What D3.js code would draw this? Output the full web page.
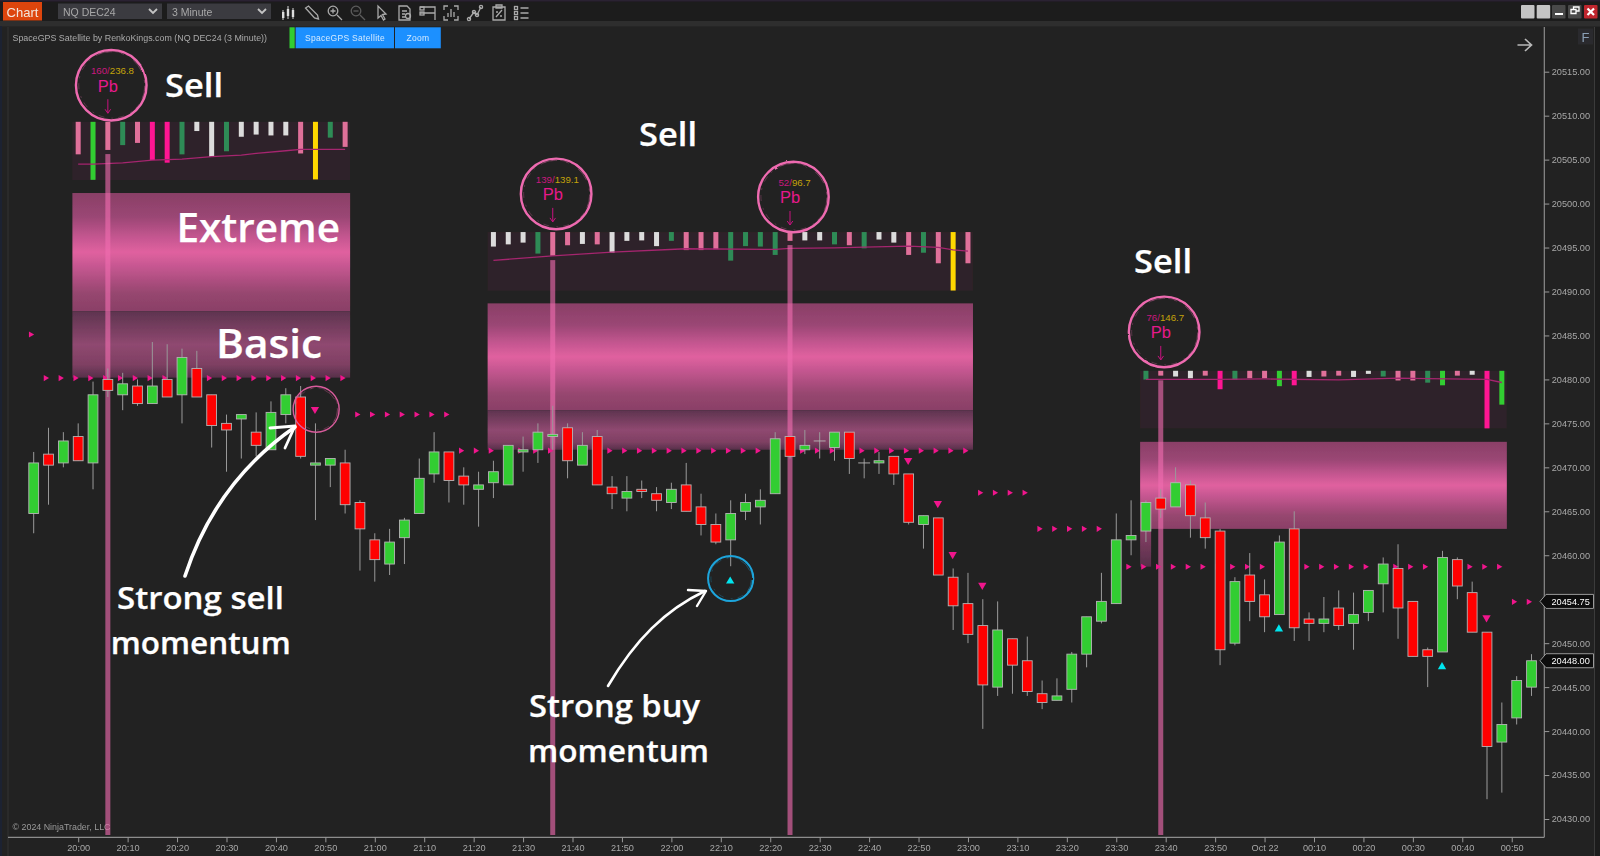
<!DOCTYPE html>
<html>
<head>
<meta charset="utf-8">
<title>SpaceGPS Satellite chart</title>
<script src="https://cdn.jsdelivr.net/npm/d3@7/dist/d3.min.js"></script>
<style>
html,body{margin:0;padding:0;background:#222;overflow:hidden}
svg{display:block}
text{font-family:"Liberation Sans",Arial,sans-serif}
.note{font-family:"Open Sans",sans-serif;font-weight:600;fill:#fff;stroke:#fff;stroke-width:0.25px}
</style>
</head>
<body>
<svg id="c" width="1600" height="856"></svg>
<script>
// ---------- DATA (prices) ----------
const instrumentLabel = "NQ DEC24", periodLabel = "3 Minute";
const titleLabel = "SpaceGPS Satellite by RenkoKings.com (NQ DEC24 (3 Minute))";
const copyrightLabel = "\u00a9 2024 NinjaTrader, LLC";
const priceTicks = [20430,20435,20440,20445,20450,20455,20460,20465,20470,20475,20480,20485,20490,20495,20500,20505,20510,20515];
const timeTickLabels = ["20:00","20:10","20:20","20:30","20:40","20:50","21:00","21:10","21:20","21:30","21:40","21:50","22:00","22:10","22:20","22:30","22:40","22:50","23:00","23:10","23:20","23:30","23:40","23:50","Oct 22","00:10","00:20","00:30","00:40","00:50"];

const opens = [20464.75,20471.5,20470.5,20473.5,20470.5,20480,20478.25,20479.25,20477.25,20480,20478.25,20481.25,20478.25,20475,20475.5,20474,20472,20476,20478,20470.25,20470.25,20470.5,20466,20461.75,20459,20462,20464.75,20469.25,20471.75,20469,20467.5,20468.25,20468,20471.75,20472,20473.5,20474.5,20470.25,20473.5,20467.75,20466.5,20467.5,20467,20466,20468,20465.5,20463.5,20461.75,20465,20465.5,20467,20473.5,20472,20473,20472.25,20474,20470.5,20470.5,20471.25,20469.25,20463.5,20464.25,20457.5,20454.5,20452,20445,20450.5,20448,20444.25,20443.5,20444.75,20448.75,20452.5,20454.5,20461.75,20462.75,20466.5,20465.5,20468,20464.25,20462.75,20450,20457.75,20455.5,20453.25,20463,20452.75,20452.25,20454,20452.25,20453.5,20456.75,20458.5,20454.75,20449.25,20449,20459.5,20455.75,20451.25,20438.75,20441.5,20445];
const highs = [20471.75,20474.5,20474,20475,20479.75,20481.25,20480.75,20480,20484.25,20484,20483.5,20483.25,20478.25,20476,20476,20476.25,20477.5,20479,20479.25,20475,20471,20472,20466.25,20462.5,20463,20464.25,20471,20474,20471.75,20470,20469.5,20470.75,20472.5,20473.5,20475,20477,20475,20474,20474.25,20469,20469,20468.5,20467.75,20468.25,20470.5,20467,20464.75,20466.25,20467,20467.5,20474,20473.5,20474.25,20474,20474,20474,20471,20471.75,20471.25,20469.25,20464.5,20464.25,20458.5,20458,20455,20454.75,20450.5,20450.75,20445.75,20446,20449,20453,20458,20464.75,20466.25,20466.25,20467.5,20470,20468.5,20466,20463,20457.5,20460.25,20457.25,20462.25,20465,20453.5,20455.25,20456,20455.75,20456,20459.75,20461.25,20454.75,20449.5,20460.5,20459.75,20457,20451.25,20443.25,20446.25,20448.75];
const lows = [20462.5,20465.75,20470,20470.75,20467.5,20478,20476.5,20477,20477.25,20478,20475,20478,20472.25,20469.5,20471,20471.25,20472,20475,20471,20464,20467.75,20464.75,20458.25,20457,20457.75,20459,20464.75,20468.25,20466,20465.75,20463.25,20466.5,20468,20469.5,20470.5,20472,20468.75,20470.25,20468,20465.25,20465,20466.5,20465,20465.25,20465,20462.25,20461.25,20458.75,20464,20463.5,20467,20471,20471.5,20471,20470.75,20469.25,20468.75,20469.25,20468,20463.5,20460.75,20457.75,20451.5,20450,20440.25,20444,20444.25,20444,20442.5,20443.5,20443.25,20447.25,20452.25,20454.5,20460,20461.5,20464.25,20465.5,20462,20460.75,20447.5,20449.75,20452.5,20451.25,20453.25,20450.25,20450.25,20451.25,20451.5,20449.25,20452.5,20453.5,20450.5,20448.5,20445,20449,20455,20451.25,20432.25,20433,20440.75,20444];
const closes = [20470.5,20470.25,20473,20470.75,20478.25,20478.75,20479.5,20477.25,20479.25,20478,20482.5,20478,20474.75,20474.25,20476,20472.5,20476.25,20478.25,20471.25,20470.5,20471,20465.75,20463,20459.5,20461.5,20464,20468.75,20471.75,20468.5,20468,20468,20469.5,20472.5,20472,20474,20473.75,20470.75,20472.5,20468,20467,20467.25,20467.25,20466.25,20467.5,20465,20463.5,20461.5,20464.75,20466,20466.25,20473.25,20471.25,20472.5,20473,20474,20471,20470.5,20470.75,20469.25,20463.75,20464.5,20457.75,20454.25,20451,20445.25,20451.5,20447.5,20444.5,20443.25,20444,20448.75,20453,20454.75,20461.75,20462.25,20466,20465.25,20468.25,20464.5,20462,20449.25,20457,20454.75,20453,20461.5,20451.75,20452.25,20452.75,20452,20453.25,20456,20459,20454,20448.5,20448.5,20459.75,20456.5,20451.25,20438.25,20440.75,20445.75,20448];

// satellite panels: first bar, panel extent, hanging-bar lengths (points), bar kinds, signal-line prices
const panelTop = [20509.3,20496.76,20480.98], panelBottom = [20502.67,20490.08,20474.43];
const panelFirstBar = [3,31,75];
const satLen1 = [3.7,6.6,3.2,2.65,2.4,4.35,4.65,3.7,1.05,4,3.35,1.7,1.45,1.55,1.55,3.6,6.55,1.8,2.85];
const satKind1 = "pbpdpkkdggdggggpydp";
const satLen2 = [1.65,1.4,1.2,2.45,2.7,1.5,1.35,1.4,2.35,1,0.95,1.6,1,2.05,2.05,1.95,3.25,1.6,1.65,2.6,1,0.95,0.95,1.4,1.5,1.85,0.85,1.2,2.6,2.35,3.55,6.65,3.55];
const satKind2 = "gggdppgpggggdpppddddpggdpdggpdpyp";
const satLen3 = [1,0.55,0.65,0.85,0.55,2.1,1,0.85,0.85,1.75,1.65,0.7,0.65,0.55,0.7,0.35,0.65,1.1,1.1,1.35,1.65,0.55,0.45,6.55,3.85];
const satKind3 = "dpggpkdppbkgppggdppdbpgkb";
const signalBars1 = [3,4,6,8,10,12,14,15,17,18,19,21];
const signalVals1 = [20504.49,20504.49,20504.64,20504.95,20505.06,20505.33,20505.52,20505.71,20506.01,20506.16,20506.16,20506.16];
const signalBars2 = [31,35,39,44,50,51,54,56,59,61,62,63];
const signalVals2 = [20493.53,20494.06,20494.48,20494.86,20494.78,20494.9,20494.97,20495.05,20495.16,20495.01,20494.74,20494.59];
const signalBars3 = [75,80,83,88,92,94,98,99];
const signalVals3 = [20480.0,20480.0,20480.05,20479.95,20480.15,20480.1,20480.0,20479.65];

// supply zones (prices)
const zoneFirstBar = [3,31,75], zoneLastBar = [21,63,99];
const extremeTop = [20501.2,20488.65,20472.9], extremeBottom = [20487.75,20476.5,20463];
const basicBottom = [20480.2,20472,20458.7];

// Pb signals
const pbBars = [5,35,51,76];
const pbStartPrice = [20505.63,20493.57,20495.28,20479.9];
const pbCount = ["160/","139/","52/","76/"], pbValue = ["236.8","139.1","96.7","146.7"];
const pbRingPrice = [20513.46,20501.1,20500.75,20485.4];

// level markers
const levelPrice = [20485.1,20480.15,20476,20471.9,20467.1,20463,20458.7,20454.7];
const levelFrom = [0,1,22,29,64,68,74,100], levelTo = [0,21,28,63,67,72,99,101];

// momentum triangles
const downBars = [19,59,61,62,64,98], downPrice = [20476.6,20470.8,20465.9,20460.1,20456.6,20452.9];
const upBars = [47,84,95], upPrice = [20457.05,20451.6,20447.3];

// price markers on the axis
const markerPrice = [20454.75,20448];

// ---------- SCALES ----------
const W = 1600, H = 856, axisX = 1544.3, axisY = 837.3, leftX = 8, topY = 27;
const startTime = new Date(2024,9,21,19,51);
const barTime = opens.map((_,i)=>d3.timeMinute.offset(startTime,i*3));
const x = d3.scaleTime().domain([barTime[0],barTime[barTime.length-1]]).range([33.7,1531.5]);
const X = i => x(barTime[i]);
const y = d3.scaleLinear().domain([20430,20515]).range([819.0,71.7]);

const svg = d3.select("#c");
const defs = svg.append("defs");
function gradient(id,stops){
  defs.append("linearGradient").attr("id",id).attr("x1",0).attr("x2",0).attr("y1",0).attr("y2",1)
    .selectAll("stop").data(stops).join("stop").attr("offset",d=>d[0]).attr("stop-color",d=>d[1]);
}
gradient("gExtreme",[[0,"#8a4067"],[0.2,"#9a4674"],[0.38,"#c65791"],[0.5,"#e0619f"],[0.62,"#c65791"],[0.85,"#96466f"],[1,"#8a4067"]]);
gradient("gBasic",[[0,"#5e344f"],[0.5,"#8f4870"],[0.8,"#7f4063"],[1,"#57304a"]]);
gradient("gStub",[[0,"#8a4067"],[1,"#57304a"]]);
defs.append("filter").attr("id","soft").attr("filterUnits","userSpaceOnUse")
  .attr("x",0).attr("y",0).attr("width",W).attr("height",H)
  .append("feGaussianBlur").attr("stdDeviation",0.45);
defs.append("filter").attr("id","rough").attr("x","-10%").attr("y","-10%").attr("width","120%").attr("height","120%")
  .call(f=>{f.append("feTurbulence").attr("type","fractalNoise").attr("baseFrequency",0.05).attr("numOctaves",2).attr("seed",4).attr("result","n");
            f.append("feDisplacementMap").attr("in","SourceGraphic").attr("in2","n").attr("scale",2);});

// ---------- FRAME ----------
const chart = svg.append("g").attr("filter","url(#soft)");
chart.append("rect").attr("width",W).attr("height",H).attr("fill","#222");
chart.append("rect").attr("width",W).attr("height",21).attr("fill","#1d1d1d");
chart.append("rect").attr("width",W).attr("height",1.5).attr("fill","#2c2033");
chart.append("rect").attr("y",21).attr("width",W).attr("height",5.5).attr("fill","#2f2f2f");
chart.append("rect").attr("x",0).attr("y",26).attr("width",2).attr("height",H-26).attr("fill","#1b2333");
chart.append("rect").attr("x",7.5).attr("y",27).attr("width",1).attr("height",H-27).attr("fill","#333");
chart.append("rect").attr("x",1594).attr("y",27).attr("width",1).attr("height",H-27).attr("fill","#3a3a3a");
chart.append("rect").attr("x",1595).attr("y",27).attr("width",5).attr("height",H-27).attr("fill","#1d1d1d");

// Toolbar
chart.append("rect").attr("x",3).attr("y",2).attr("width",39).attr("height",18.5).attr("fill","#dd4511");
chart.append("text").attr("x",22.5).attr("y",16.5).attr("text-anchor","middle").attr("fill","#f2e6dc").attr("font-size",13).text("Chart");
[[58,104,instrumentLabel],[167,104,periodLabel]].forEach(([bx,bw,t])=>{
  chart.append("rect").attr("x",bx).attr("y",3.5).attr("width",bw).attr("height",15.5).attr("fill","#3b3b40");
  chart.append("text").attr("x",bx+5).attr("y",15.5).attr("fill","#a8a8a8").attr("font-size",10.5).text(t);
  chart.append("path").attr("d",`M${bx+91},9 l4,4 l4,-4`).attr("fill","none").attr("stroke","#c4c4c4").attr("stroke-width",1.8);
});
const icons = chart.append("g").attr("fill","none").attr("stroke","#a9a9a9").attr("stroke-width",1.3);
const icon = (cx,d,extra)=>{const g=icons.append("g").attr("transform",`translate(${cx},13)`);g.append("path").attr("d",d);if(extra)extra(g);return g;};
icon(288,"M-5,-3V7M0,-7V6M5,-5V6",g=>{g.append("rect").attr("x",-6).attr("y",-1).attr("width",2.4).attr("height",6).attr("fill","#ddd").attr("stroke","none");g.append("rect").attr("x",-1.2).attr("y",-4).attr("width",2.4).attr("height",7).attr("fill","#ddd").attr("stroke","none");g.append("rect").attr("x",3.8).attr("y",-3).attr("width",2.4).attr("height",7).attr("fill","#ddd").attr("stroke","none");});
icon(311.5,"M-6,-5L3,5L7,6L6,2L-3,-7Z");
icon(335,"M2,2L7,7",g=>{g.append("circle").attr("cx",-2).attr("cy",-2).attr("r",4.8);g.append("path").attr("d","M-4.5,-2H0.5M-2,-4.5V0.5");});
icon(358,"M2,2L7,7",g=>{g.attr("opacity",0.45);g.append("circle").attr("cx",-2).attr("cy",-2).attr("r",4.8);g.append("path").attr("d","M-4.5,-2H0.5");});
icon(381,"M-3,-7L-3,5L0,2.5L2.5,7L4,6L1.5,1.5L5,1Z");
icon(405,"M-6,-7H2L5,-4V7H-6Z M-3,-2H2 M-3,1H0 M-3,4H0",g=>{g.append("circle").attr("cx",3).attr("cy",3).attr("r",2.5);});
icon(428,"M-8,-6H7V7 M-8,0H7",g=>{g.append("rect").attr("x",-8).attr("y",-6).attr("width",4).attr("height",3);g.append("rect").attr("x",-8).attr("y",-1).attr("width",4).attr("height",3);});
icon(451,"M-7,-3V-7H-3 M3,-7H7V-3 M7,3V7H3 M-3,7H-7V3 M-3,4V0 M0,4V-4 M3,4V-1");
icon(475,"M-6,6L-1,-1L2,2L6,-6",g=>{[[-6,6],[-1,-1],[2,2],[6,-6]].forEach(p=>g.append("circle").attr("cx",p[0]).attr("cy",p[1]).attr("r",1.6));});
icon(499,"M-6,-6H6V7H-6Z M-3,-8H3V-5H-3Z M-3,4L3,-3 M-3,-1H-1 M1,3H3");
icon(521.5,"M-1,-5H7 M-1,0H7 M-1,5H7",g=>{[-5,0,5].forEach(v=>g.append("rect").attr("x",-7).attr("y",v-1.5).attr("width",3).attr("height",3));});
// Window buttons
[[1521,"#c4c4c4"],[1536.7,"#c4c4c4"],[1552,"#4a4a4a"],[1568,"#4a4a4a"],[1584,"#c0272d"]].forEach(([bx,c])=>{
  chart.append("rect").attr("x",bx).attr("y",5).attr("width",13.5).attr("height",13.5).attr("rx",1).attr("fill",c);
});
chart.append("path").attr("d","M1555,14H1563").attr("stroke","#fff").attr("stroke-width",2);
chart.append("path").attr("d","M1571,9.5h5v4h-5z M1573.5,9.5v-2.5h5.5v4h-3").attr("fill","none").attr("stroke","#fff").attr("stroke-width",1.3);
chart.append("path").attr("d","M1587.5,8.5L1594,15M1594,8.5L1587.5,15").attr("stroke","#fff").attr("stroke-width",2.2);

// Title, buttons
chart.append("text").attr("x",12.5).attr("y",40.5).attr("fill","#aaa").attr("font-size",8.9).text(titleLabel);
chart.append("rect").attr("x",289.5).attr("y",27.3).attr("width",5.2).attr("height",21).attr("fill","#32cd32");
chart.append("rect").attr("x",295.6).attr("y",27.3).attr("width",98.4).attr("height",21).attr("fill","#1e90ff");
chart.append("rect").attr("x",395).attr("y",27.3).attr("width",45.8).attr("height",21).attr("fill","#1e90ff");
chart.append("text").attr("x",345).attr("y",41).attr("text-anchor","middle").attr("fill","#d4ebff").attr("font-size",8.5).attr("letter-spacing",0.3).text("SpaceGPS Satellite");
chart.append("text").attr("x",418).attr("y",41).attr("text-anchor","middle").attr("fill","#d4ebff").attr("font-size",8.5).attr("letter-spacing",0.3).text("Zoom");
chart.append("rect").attr("x",1578).attr("y",28.5).attr("width",15).attr("height",16).attr("fill","#2c2c2e");
chart.append("text").attr("x",1585.5).attr("y",41.5).attr("text-anchor","middle").attr("fill","#8a9fb5").attr("font-size",13).text("F");
chart.append("path").attr("d","M1517.5,45H1531 M1525,39L1531.5,45L1525,51").attr("fill","none").attr("stroke","#b9b9b9").attr("stroke-width",1.7);
chart.append("text").attr("x",12.5).attr("y",829.5).attr("fill","#9a9a9a").attr("font-size",8.9).text(copyrightLabel);

// ---------- AXES ----------
const yAxis = d3.axisRight(y).tickValues(priceTicks).tickFormat(d3.format(".2f")).tickSize(5).tickPadding(2.4);
const gy = chart.append("g").attr("transform",`translate(${axisX},0)`).call(yAxis);
gy.select(".domain").attr("d",`M0,${topY}V${axisY}`).attr("stroke","#8d8d8d").attr("stroke-width",1.2);
gy.selectAll("line").attr("stroke","#9a9a9a");
gy.selectAll("text").attr("fill","#a8a8a8").attr("font-size",9.2).attr("font-family","Liberation Sans, Arial, sans-serif");

const tickTimes = timeTickLabels.map((_,i)=>d3.timeMinute.offset(new Date(2024,9,21,20,0),i*10));
const xAxis = d3.axisBottom(x).tickValues(tickTimes).tickFormat((_,i)=>timeTickLabels[i]).tickSize(5).tickPadding(2.5);
const gx = chart.append("g").attr("transform",`translate(0,${axisY})`).call(xAxis);
gx.select(".domain").attr("d",`M${leftX},0H${axisX}`).attr("stroke","#8d8d8d").attr("stroke-width",1.2);
gx.selectAll("line").attr("stroke","#9a9a9a");
gx.selectAll("text").attr("fill","#a8a8a8").attr("font-size",9.2).attr("font-family","Liberation Sans, Arial, sans-serif");

// ---------- SATELLITE PANELS ----------
const kindColor = {p:"#e0709a",k:"#ff1493",d:"#2e8b57",b:"#32cd32",g:"#dcdcdc",y:"#ffd700"};
const zx0 = i => X(i)-5.8, zx1 = i => X(i)+5;
const panels = [[satLen1,satKind1,signalBars1,signalVals1],[satLen2,satKind2,signalBars2,signalVals2],[satLen3,satKind3,signalBars3,signalVals3]];
panels.forEach(([lens,kinds,sb,sv],pi)=>{
  const first = panelFirstBar[pi], last = first+lens.length-1;
  chart.append("rect").attr("x",zx0(first)).attr("width",zx1(last)-zx0(first))
    .attr("y",y(panelTop[pi])).attr("height",y(panelBottom[pi])-y(panelTop[pi])).attr("fill","#2f2229");
  chart.append("g").selectAll("rect").data(lens).join("rect")
    .attr("x",(d,i)=>X(first+i)-2.5).attr("width",5)
    .attr("y",y(panelTop[pi]))
    .attr("height",d=>y(panelTop[pi]-d)-y(panelTop[pi]))
    .attr("fill",(d,i)=>kindColor[kinds[i]]);
  chart.append("path").datum(sb.map((b,i)=>[X(b),y(sv[i])]))
    .attr("d",d3.line()).attr("fill","none").attr("stroke","#a5266f").attr("stroke-width",1.3);
});

// ---------- ZONES ----------
const zoneG = chart.append("g");
extremeTop.forEach((_,i)=>{
  zoneG.append("rect").attr("x",zx0(zoneFirstBar[i])).attr("width",zx1(zoneLastBar[i])-zx0(zoneFirstBar[i]))
    .attr("y",y(extremeTop[i])).attr("height",y(extremeBottom[i])-y(extremeTop[i])).attr("fill","url(#gExtreme)");
  const stub = i===2;
  zoneG.append("rect").attr("x",zx0(zoneFirstBar[i]))
    .attr("width",stub ? 11 : zx1(zoneLastBar[i])-zx0(zoneFirstBar[i]))
    .attr("y",y(extremeBottom[i])).attr("height",y(basicBottom[i])-y(extremeBottom[i]))
    .attr("fill",stub?"url(#gStub)":"url(#gBasic)");
});

// ---------- Pb vertical strips ----------
chart.append("g").selectAll("rect").data(pbBars).join("rect")
  .attr("x",d=>X(d)-2.5).attr("width",5)
  .attr("y",(d,i)=>y(pbStartPrice[i])).attr("height",(d,i)=>835-y(pbStartPrice[i]))
  .attr("fill","#f06cb0").attr("fill-opacity",0.62);

// ---------- LEVEL MARKERS ----------
const levelPts = levelPrice.flatMap((p,l)=>d3.range(levelFrom[l],levelTo[l]+1).map(b=>({b,p})));
chart.append("g").selectAll("path").data(levelPts).join("path")
  .attr("d",d3.symbol(d3.symbolTriangle).size(16))
  .attr("transform",d=>`translate(${X(d.b)-3},${y(d.p)}) rotate(90)`)
  .attr("fill","#f0148c");

// ---------- CANDLES ----------
const candles = chart.append("g");
candles.selectAll("line").data(opens).join("line")
  .attr("x1",(d,i)=>X(i)).attr("x2",(d,i)=>X(i))
  .attr("y1",(d,i)=>y(highs[i])).attr("y2",(d,i)=>y(lows[i]))
  .attr("stroke","#9a9a9a").attr("stroke-width",1);
candles.selectAll("rect").data(opens).join("rect")
  .attr("x",(d,i)=>X(i)-(opens[i]===closes[i]?5.5:4.9))
  .attr("width",(d,i)=>opens[i]===closes[i]?11:9.8)
  .attr("y",(d,i)=>y(Math.max(opens[i],closes[i])))
  .attr("height",(d,i)=>Math.max(y(Math.min(opens[i],closes[i]))-y(Math.max(opens[i],closes[i])),0.01))
  .attr("fill",(d,i)=>closes[i]>opens[i]?"#32cd32":"#ff0000")
  .attr("stroke","#b5b5b5").attr("stroke-width",0.9);

// ---------- MOMENTUM TRIANGLES ----------
chart.append("g").selectAll("path").data(downBars).join("path")
  .attr("d",d3.symbol(d3.symbolTriangle).size(30))
  .attr("transform",(d,i)=>`translate(${X(d)-0.5},${y(downPrice[i])}) rotate(180)`)
  .attr("fill","#f0148c");
chart.append("g").selectAll("path").data(upBars).join("path")
  .attr("d",d3.symbol(d3.symbolTriangle).size(30))
  .attr("transform",(d,i)=>`translate(${X(d)-0.5},${y(upPrice[i])})`)
  .attr("fill","#00e5ee");

// Sketched rings
function ring(g,cx,cy,r,color,w){
  g.append("circle").attr("cx",cx).attr("cy",cy).attr("r",r).attr("fill","none").attr("stroke",color).attr("stroke-width",w).attr("filter","url(#rough)");
  g.append("circle").attr("cx",cx+0.8).attr("cy",cy-0.4).attr("r",r-2).attr("fill","none").attr("stroke",color).attr("stroke-opacity",0.35).attr("stroke-width",0.8).attr("stroke-dasharray","6 5 2 7").attr("filter","url(#rough)");
  g.append("circle").attr("cx",cx-0.6).attr("cy",cy+0.6).attr("r",r-1.2).attr("fill","none").attr("stroke",color).attr("stroke-opacity",0.5).attr("stroke-width",0.7).attr("stroke-dasharray","14 9 3 11").attr("filter","url(#rough)");
}
const rings = svg.append("g");
pbBars.forEach((b,i)=>{
  const cx = X(b)+3.4, cy = y(pbRingPrice[i]);
  ring(rings,cx,cy,35.3,"#ee6bb0",2.4);
  const t = rings.append("text").attr("x",X(b)+4.6).attr("y",cy-11).attr("text-anchor","middle").attr("font-size",9.7);
  t.append("tspan").attr("fill","#c9187f").text(pbCount[i]);
  t.append("tspan").attr("fill","#c4a30a").text(pbValue[i]);
  rings.append("text").attr("x",X(b)).attr("y",cy+6.5).attr("text-anchor","middle").attr("fill","#e6198c").attr("font-size",16.5).text("Pb");
  rings.append("path").attr("d",`M${X(b)},${cy+14}V${cy+28} M${X(b)-2.8},${cy+24}L${X(b)},${cy+28}L${X(b)+2.8},${cy+24}`)
    .attr("fill","none").attr("stroke","#c8127f").attr("stroke-width",1);
});
ring(rings,X(19)+0.7,y(downPrice[0]),23,"#d95c9c",1.4);
ring(rings,X(47),y(upPrice[0])-2.7,22.6,"#1fa5dc",2);

// ---------- ANNOTATIONS ----------
const notes = svg.append("g");
const noteRows = [
  ["Sell",165,96.7,32,58],["Sell",639,146,32,58],["Sell",1134,273,32,58],
  ["Extreme",176.5,242,40,163.5],["Basic",216,358,40,106],
  ["Strong sell",117,609,31,167],["momentum",110.7,654,31,180],
  ["Strong buy",529,717.3,31,171],["momentum",528,762.3,31,181]
];
notes.selectAll("text").data(noteRows).join("text").attr("class","note")
  .attr("x",d=>d[1]).attr("y",d=>d[2]).attr("font-size",d=>d[3])
  .attr("textLength",d=>d[4]).attr("lengthAdjust","spacingAndGlyphs").text(d=>d[0]);
const arrows = notes.append("g").attr("fill","none").attr("stroke","#fff").attr("stroke-linecap","round").attr("stroke-linejoin","round");
arrows.append("path").attr("d","M185,576C205,515 240,465 295,427").attr("stroke-width",3.6);
arrows.append("path").attr("d","M270,428L295,426L285,448").attr("stroke-width",2.8);
arrows.append("path").attr("d","M608,686C635,640 665,610 705,591").attr("stroke-width",2.6);
arrows.append("path").attr("d","M688,590L706,591L697,606").attr("stroke-width",2.4);

// ---------- PRICE MARKERS ----------
const markers = svg.append("g").attr("filter","url(#soft)");
markerPrice.forEach(p=>{
  const yy = y(p);
  markers.append("path").attr("d",`M1540,${yy}L1546,${yy-7}H1593.5V${yy+7}H1546Z`).attr("fill","#0a0a0a").attr("stroke","#9a9a9a").attr("stroke-width",1);
  markers.append("text").attr("x",1551.5).attr("y",yy+3.3).attr("fill","#fff").attr("font-size",9.2).text(d3.format(".2f")(p));
});
</script>
</body>
</html>
